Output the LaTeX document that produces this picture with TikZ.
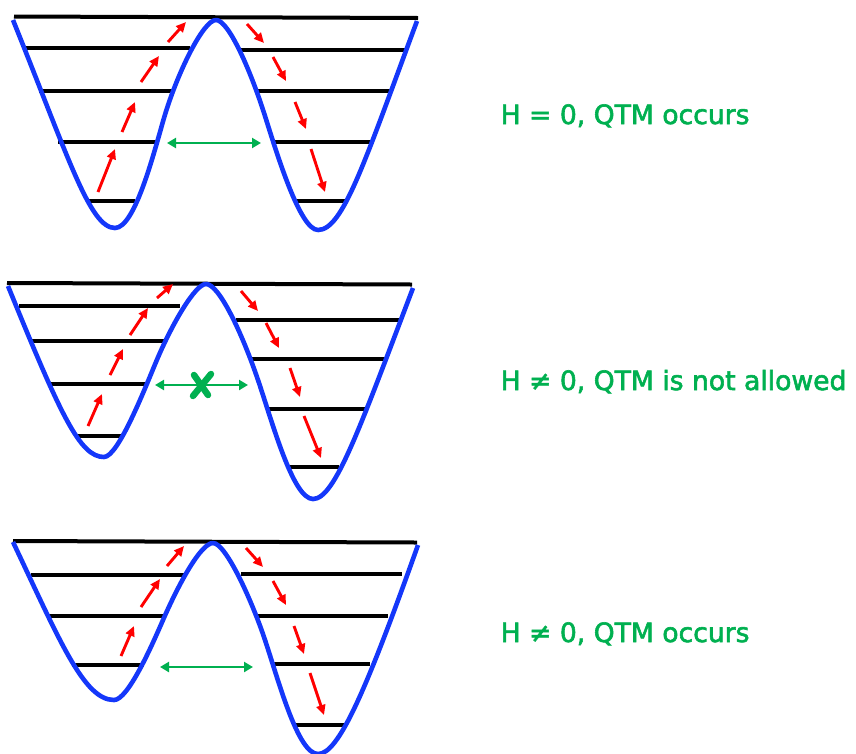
\documentclass[tikz,border=0pt]{standalone}
\usepackage{fontspec}
\setmainfont{DejaVu Sans}
\newfontfamily\lblfont[FakeBold=2.2]{DejaVu Sans}
\usetikzlibrary{arrows.meta}
\definecolor{qgreen}{RGB}{0,176,80}
\definecolor{qblue}{RGB}{20,55,250}
\tikzset{
  well/.style={draw=qblue, line width=4.6pt, line join=round},
  level/.style={draw=black, line width=4pt},
  hop/.style={draw=red, line width=2.9pt, -{Triangle[length=10pt,width=9pt]}},
  tunnel/.style={draw=qgreen, line width=2.8pt, {Triangle[length=9pt,width=10pt]}-{Triangle[length=9pt,width=10pt]}},
  label/.style={text=qgreen, font=\lblfont\fontsize{26.6}{30}\selectfont, anchor=base west, inner sep=0pt}
}
\begin{document}
\begin{tikzpicture}[x=1pt,y=-1pt]
\useasboundingbox (0,0) rectangle (856,753);
% ---------- Panel 1 ----------
\draw[level] (14,16.5) -- (418,18);
\foreach \a/\b/\y in {26/190/48, 39/173/91, 58/158/142, 87/135/201, 240/405/50, 256/392/91, 272/373/142, 297/348/201}
  \draw[level] (\a,\y) -- (\b,\y);
\draw[well] (13,20) .. controls (69,159) and (90,228) .. (115,228)
  .. controls (135,228) and (154.2,151.6) .. (164,118)
  .. controls (176.6,74.8) and (203,20) .. (216,20)
  .. controls (229,20) and (251.5,73.25) .. (265,116)
  .. controls (277,154) and (300,230) .. (318,230)
  .. controls (343,230) and (364.5,162) .. (417,21);
\draw[hop] (98,192) -- (115,149);
\draw[hop] (122,132) -- (135,102);
\draw[hop] (141,82) -- (159,56);
\draw[hop] (168,42) -- (186,22);
\draw[hop] (247,24) -- (264,43);
\draw[hop] (273,57) -- (286,81);
\draw[hop] (295,102) -- (306,129);
\draw[hop] (311,149) -- (325,192);
\coordinate (t1a) at (167,143);
\coordinate (t1b) at (261,143);
\draw[tunnel] (t1a) -- (t1b);
\node[label] (lab1) at (500.5,124) {H = 0, QTM occurs};
% ---------- Panel 2 ----------
\draw[level] (7,283) -- (412,284.5);
\foreach \a/\b/\y in {19/180/306, 31/165/341, 48/147/384, 76/124/436, 236/399/320, 251/386/359, 268/367/409, 289/339/467}
  \draw[level] (\a,\y) -- (\b,\y);
\draw[well] (8,286) .. controls (61,416) and (80,457) .. (104,457)
  .. controls (118,457) and (144.4,389.7) .. (156,362)
  .. controls (171.4,325.1) and (195,284) .. (206,284)
  .. controls (219,284) and (241.9,332.7) .. (258,380)
  .. controls (272.5,422.6) and (293,499) .. (313,499)
  .. controls (335,499) and (359.6,428.3) .. (413,288);
\draw[hop] (88,426) -- (102,394);
\draw[hop] (110,375) -- (123,349);
\draw[hop] (130,335) -- (148,308);
\draw[hop] (157,298) -- (173,284);
\draw[hop] (241,291) -- (258,311);
\draw[hop] (266,323) -- (279,348);
\draw[hop] (290,368) -- (300,397);
\draw[hop] (304,416) -- (321,458);
\coordinate (t2a) at (155,385);
\coordinate (t2b) at (248,385);
\draw[tunnel] (t2a) -- (t2b);
\draw[qgreen, line width=6.5pt, line cap=round] (194,375) -- (208,395);
\draw[qgreen, line width=6.5pt, line cap=round] (211,374) -- (193,396);
\node[label] (lab2) at (500.5,390) {H ≠ 0, QTM is not allowed};
% ---------- Panel 3 ----------
\draw[level] (13,541) -- (417,542.5);
\foreach \a/\b/\y in {31/185/575, 49/163/616, 72/144/665, 241/402/574, 257/388/616, 273/370/664, 295/345/725}
  \draw[level] (\a,\y) -- (\b,\y);
\draw[well] (13,542) .. controls (60.1,641.4) and (84,700) .. (114,700)
  .. controls (128,700) and (151.8,645.7) .. (163,620)
  .. controls (179,583.3) and (201,543) .. (213,543)
  .. controls (226,543) and (252.4,602) .. (265,640)
  .. controls (279.2,682.7) and (298,754) .. (318,754)
  .. controls (338,754) and (364.4,695.7) .. (418,545);
\draw[hop] (121,656) -- (134,626);
\draw[hop] (141,607) -- (160,579);
\draw[hop] (167,566) -- (184,546);
\draw[hop] (246,548) -- (263,567);
\draw[hop] (273,581) -- (286,605);
\draw[hop] (294,626) -- (304,654);
\draw[hop] (310,673) -- (324,715);
\coordinate (t3a) at (160,667);
\coordinate (t3b) at (253,667);
\draw[tunnel] (t3a) -- (t3b);
\node[label] (lab3) at (500.5,642) {H ≠ 0, QTM occurs};
\end{tikzpicture}
\end{document}
